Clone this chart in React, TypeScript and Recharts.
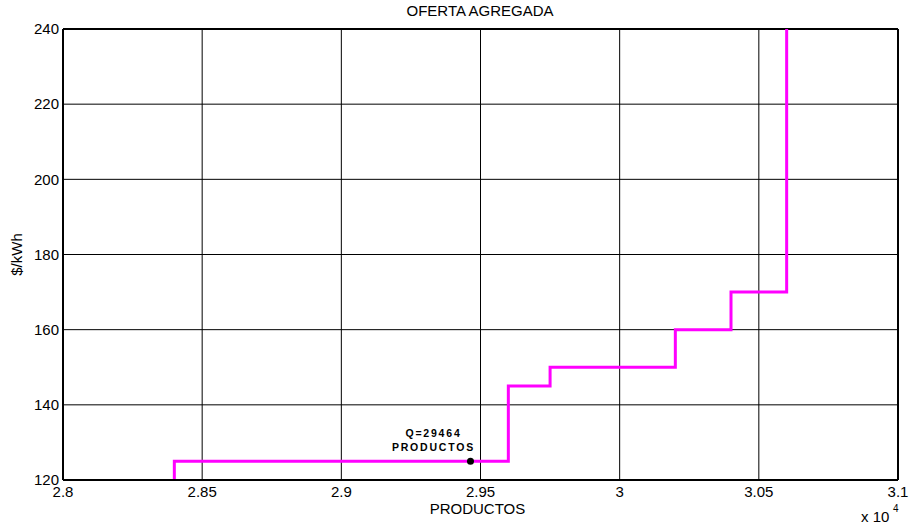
import { CartesianGrid, Line, LineChart, ReferenceDot, ReferenceLine, XAxis, YAxis } from "recharts";

// corner points of the aggregated supply curve (drawn as stepBefore)
const offerQ = [28400, 29600, 29750, 30200, 30400, 30600, 30600];
const offerPrice = [120, 125, 145, 150, 160, 170, 240];

const xTicks = [28000, 28500, 29000, 29500, 30000, 30500, 31000];
const yTicks = [120, 140, 160, 180, 200, 220, 240];

const clearingQ = 29464;
const clearingPrice = 125;

const FONT = "'Liberation Sans', Arial, sans-serif";

const data = offerQ.map((q, i) => ({ q, price: offerPrice[i] }));

function ClearingMark(props: any) {
  const { cx, cy } = props;
  if (cx == null || cy == null) return null;
  const lx = cx - 37;
  return (
    <g>
      <text x={lx} y={cy - 24} textAnchor="middle" fontFamily={FONT} fontSize={10.5} fontWeight="bold" letterSpacing={1.8} fill="#000">
        Q=29464
      </text>
      <text x={lx} y={cy - 10} textAnchor="middle" fontFamily={FONT} fontSize={10.5} fontWeight="bold" letterSpacing={1.8} fill="#000">
        PRODUCTOS
      </text>
      <circle cx={cx} cy={cy} r={3.5} fill="#000" />
    </g>
  );
}

function XAxisTitle(props: any) {
  const { viewBox } = props;
  const x = viewBox.x;
  const w = viewBox.width;
  return (
    <g fontFamily={FONT} fill="#000">
      <text x={x + w / 2 - 3} y={514} textAnchor="middle" fontSize={15}>
        PRODUCTOS
      </text>
      <text x={861} y={522} fontSize={15}>
        x 10
      </text>
      <text x={893} y={512} fontSize={10}>
        4
      </text>
    </g>
  );
}

export default function App() {
  return (
    <div style={{ position: "absolute", left: 0, top: 0, width: 912, height: 527, background: "#fff" }}>
      <div
        style={{
          position: "absolute",
          left: 0,
          top: 2,
          width: 960,
          textAlign: "center",
          fontFamily: FONT,
          fontSize: 15,
          color: "#000",
        }}
      >
        OFERTA AGREGADA
      </div>
      <LineChart width={912} height={527} data={data} margin={{ top: 29, right: 14, bottom: 0, left: 0 }}>
        <CartesianGrid stroke="#000" strokeWidth={1} horizontalValues={yTicks} verticalValues={xTicks} />
        <XAxis
          dataKey="q"
          type="number"
          domain={[28000, 31000]}
          ticks={xTicks}
          tickFormatter={(v: number) => String(+(v / 10000).toFixed(2))}
          tick={{ fontSize: 15, fill: "#000", fontFamily: FONT }}
          tickLine={false}
          tickSize={0}
          tickMargin={6}
          height={47}
          axisLine={{ stroke: "#000", strokeWidth: 2 }}
          interval={0}
          label={<XAxisTitle />}
        />
        <YAxis
          type="number"
          domain={[120, 240]}
          ticks={yTicks}
          tick={{ fontSize: 15, fill: "#000", fontFamily: FONT }}
          tickLine={false}
          tickSize={0}
          tickMargin={4}
          width={63}
          axisLine={{ stroke: "#000", strokeWidth: 2 }}
          interval={0}
          label={{
            value: "$/kWh",
            angle: -90,
            position: "insideLeft",
            offset: 17,
            style: { fontSize: 15, fill: "#000", fontFamily: FONT, textAnchor: "middle" },
          }}
        />
        <ReferenceLine y={240} stroke="#000" strokeWidth={2} />
        <ReferenceLine x={31000} stroke="#000" strokeWidth={2} />
        <Line
          type="stepBefore"
          dataKey="price"
          stroke="#ff00ff"
          strokeWidth={3}
          dot={false}
          activeDot={false}
          isAnimationActive={false}
        />
        <ReferenceDot x={clearingQ} y={clearingPrice} shape={<ClearingMark />} ifOverflow="visible" />
      </LineChart>
    </div>
  );
}
